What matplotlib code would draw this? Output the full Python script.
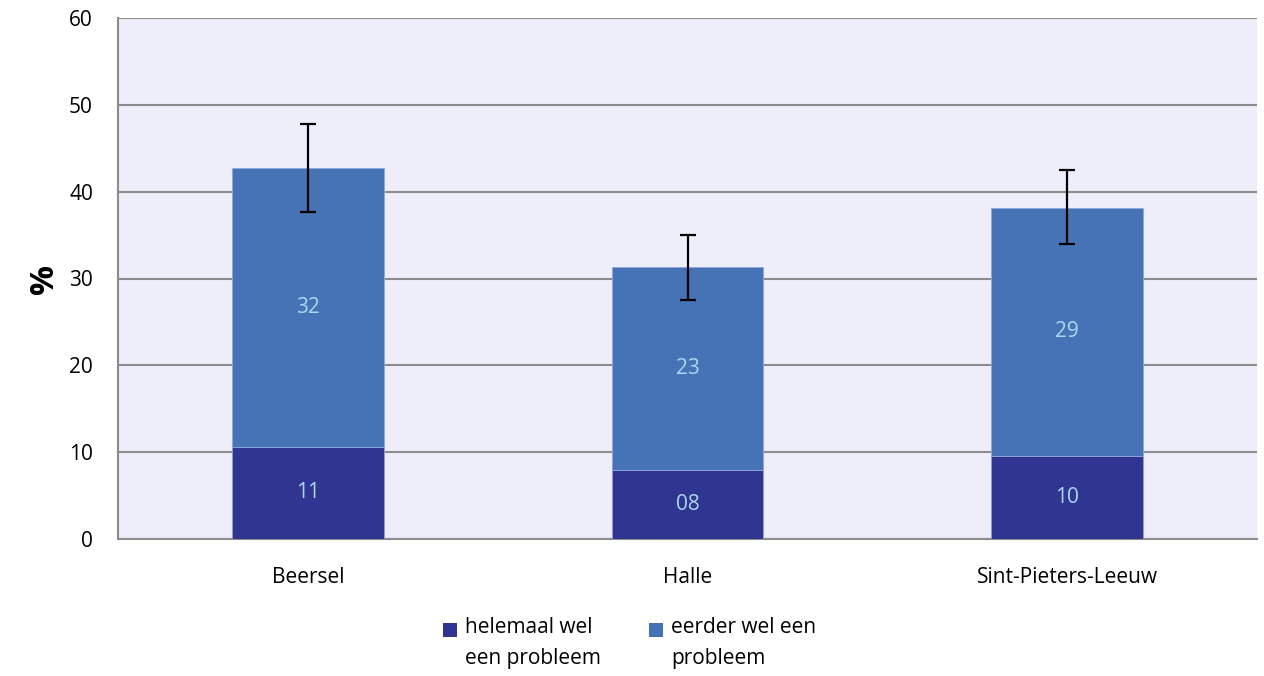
import matplotlib
matplotlib.use("Agg")
import matplotlib.pyplot as plt
from matplotlib.patches import Rectangle
import numpy as np

categories = ["Beersel", "Halle", "Sint-Pieters-Leeuw"]
helemaal = [10.6, 7.95, 9.6]
eerder = [32.1, 23.35, 28.5]
helemaal_labels = ["11", "08", "10"]
eerder_labels = ["32", "23", "29"]
err_low = [37.7, 27.5, 34.0]
err_high = [47.8, 35.0, 42.5]
series_names = ["helemaal wel\neen probleem", "eerder wel een\nprobleem"]
yticks = [0, 10, 20, 30, 40, 50, 60]

plt.rcParams['font.family'] = ['Open Sans', 'DejaVu Sans']

W, H = 1264, 676
fig = plt.figure(figsize=(W/100, H/100), dpi=100)
ax = fig.add_axes([118/W, 1-539/H, (1257-118)/W, (539-18)/H])
ax.set_facecolor('#EEEEFB')

x = np.arange(len(categories))
dark = '#303592'
mid = '#4573B5'
colors = [dark, mid]
b1 = ax.bar(x, helemaal, width=0.4, color=dark, edgecolor='#8FA0D8', linewidth=0.6, zorder=3)
b2 = ax.bar(x, eerder, width=0.4, bottom=helemaal, color=mid, edgecolor='#8FA8D8', linewidth=0.6, zorder=3)

center = (np.array(err_low) + np.array(err_high)) / 2
yerr = np.array([center - np.array(err_low), np.array(err_high) - center])
ax.errorbar(x, center, yerr=yerr, fmt='none', ecolor='black', elinewidth=1.6, capsize=6, capthick=1.6, zorder=4)

for i in range(len(categories)):
    ax.text(x[i], helemaal[i] / 2, helemaal_labels[i], ha='center', va='center', color='#A9D8EE', fontsize=15, zorder=5)
    ax.text(x[i], helemaal[i] + eerder[i] / 2, eerder_labels[i], ha='center', va='center', color='#A9D8EE', fontsize=15, zorder=5)

ax.set_xlim(-0.5, 2.5)
ax.set_ylim(0, 60)
ax.set_yticks(yticks)
ax.set_yticklabels([str(t) for t in yticks], fontsize=15)
ax.set_xticks(x)
ax.set_xticklabels(categories, fontsize=15)
ax.tick_params(axis='x', length=0, pad=20)
ax.tick_params(axis='y', length=0, pad=18)
ax.yaxis.grid(True, color='#8C8C8C', linewidth=1.5, zorder=1)
ax.set_axisbelow(True)
for s in ['top', 'right']:
    ax.spines[s].set_visible(False)
ax.spines['left'].set_color('#8C8C8C')
ax.spines['left'].set_linewidth(1.5)
ax.spines['bottom'].set_color('#8C8C8C')
ax.spines['bottom'].set_linewidth(1.5)
ax.set_ylabel('%', fontsize=24, fontweight='bold', labelpad=6)

# legend (manual, handles aligned with first text line)
leg_x = [443, 649]
for j, name in enumerate(series_names):
    fig.patches.append(Rectangle((leg_x[j]/W, 1-637/H), 14/W, 14/H, transform=fig.transFigure,
                                 facecolor=colors[j], edgecolor='none'))
    fig.text((leg_x[j]+22)/W, 1-617/H, name, ha='left', va='top', fontsize=15, linespacing=1.6)

fig.savefig('out.png', dpi=100)
